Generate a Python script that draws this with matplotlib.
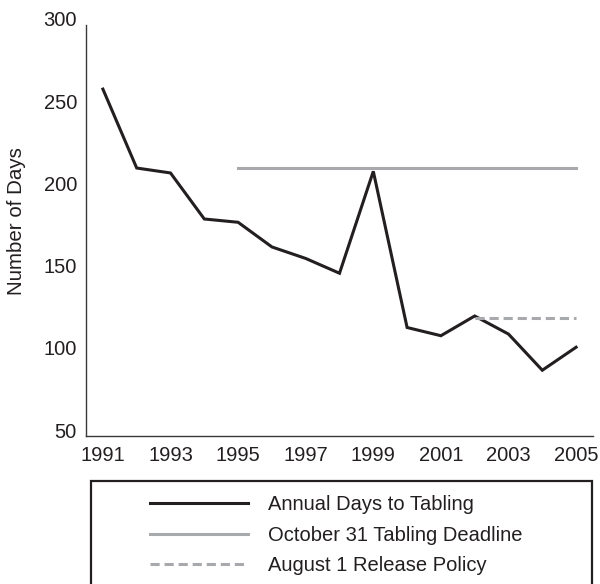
import matplotlib
matplotlib.use("Agg")
import matplotlib.pyplot as plt
import matplotlib.transforms as mtransforms
from matplotlib.patches import Rectangle

plt.rcParams['font.family'] = ['Liberation Sans', 'DejaVu Sans']

# data
years = [1991, 1992, 1993, 1994, 1995, 1996, 1997, 1998,
         1999, 2000, 2001, 2002, 2003, 2004, 2005]
days_to_tabling = [261, 213, 210, 182, 180, 165, 158, 149,
                   211, 116, 111, 123, 112, 90, 104]
deadline_years = [1995, 2005]
deadline_days = [213, 213]
release_years = [2002, 2005]
release_days = [122, 122]
legend_labels = ['Annual Days to Tabling', 'October 31 Tabling Deadline',
                 'August 1 Release Policy']

ink = '#231f20'
gray = '#a7a9ac'
fs = 14.5

W, H = 600, 584
fig = plt.figure(figsize=(W / 100, H / 100), dpi=100)
ax = fig.add_axes([86 / W, 1 - 436 / H, (593 - 86) / W, (436 - 25) / H])

l1, = ax.plot(years, days_to_tabling, color=ink, lw=2.2, solid_joinstyle='miter')
l2, = ax.plot(deadline_years, deadline_days, color=gray, lw=2.2)
l3, = ax.plot(release_years, release_days, color=gray, lw=2.2, dashes=(3, 1.6))

ax.set_xlim(1990.5, 2005.5)
ax.set_ylim(50, 300)
ax.set_xticks(range(1991, 2006, 2))
ax.set_yticks(range(50, 301, 50))
ax.tick_params(length=0, labelsize=fs, colors=ink)
ax.tick_params(axis='x', pad=7)
ax.tick_params(axis='y', pad=6.5)
# labels in the reference sit slightly above their ticks
shift = mtransforms.ScaledTranslation(0, 6 / 100, fig.dpi_scale_trans)
for lab in ax.get_yticklabels():
    lab.set_transform(lab.get_transform() + shift)

for s in ['top', 'right']:
    ax.spines[s].set_visible(False)
for s in ['left', 'bottom']:
    ax.spines[s].set_color('#3a3a3a')
    ax.spines[s].set_linewidth(1.0)

fig.text(17 / W, 1 - 221 / H, 'Number of Days', rotation=90, fontsize=14.8,
         color=ink, ha='center', va='center')

# legend box (runs off the bottom edge like the reference)
fig.patches.append(Rectangle((91 / W, -0.05), (592 - 91) / W, 0.05 + (584 - 481) / H,
                             transform=fig.transFigure, fill=False,
                             edgecolor=ink, lw=1.6))
fig.legend([l1, l2, l3], legend_labels, loc='upper left',
           bbox_to_anchor=(140 / W, 1 - 485 / H), frameon=False,
           fontsize=fs, handlelength=4.85, handletextpad=1.0,
           labelspacing=0.57, labelcolor=ink, borderpad=0)

fig.savefig('out.png', dpi=100)
